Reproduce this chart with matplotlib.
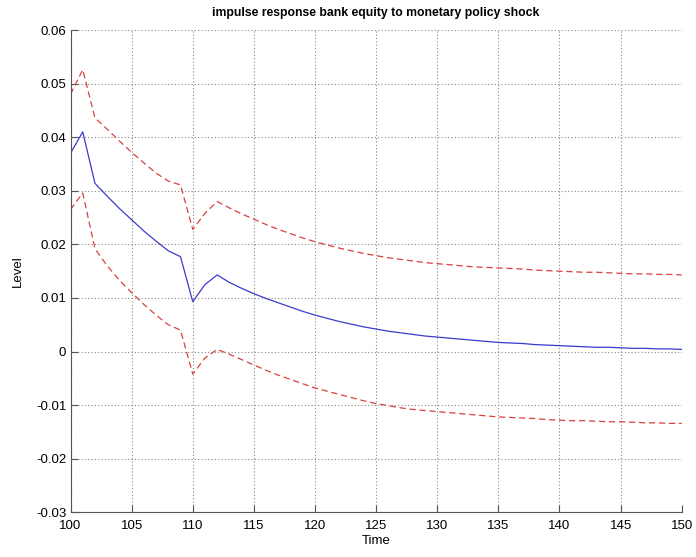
import numpy as np
import matplotlib.pyplot as plt

plt.rcParams['font.family'] = ['Liberation Sans', 'DejaVu Sans']

# periods after the shock
t = np.arange(100, 151)

# median response of bank equity
irf = [0.0370, 0.0410, 0.0314, 0.0290, 0.0267, 0.0246, 0.0225, 0.0206, 0.0188, 0.0177,
       0.0093, 0.0125, 0.0143, 0.0129, 0.0118, 0.0108, 0.0099, 0.0091, 0.0083, 0.0075,
       0.0068, 0.0062, 0.0056, 0.0051, 0.0046, 0.0042, 0.0038, 0.0035, 0.0032, 0.0029,
       0.0027, 0.0025, 0.0023, 0.0021, 0.0019, 0.0017, 0.0016, 0.0015, 0.0013, 0.0012,
       0.0011, 0.0010, 0.0009, 0.0008, 0.0008, 0.0007, 0.0006, 0.0006, 0.0005, 0.0005,
       0.0004]

# upper confidence band
upper = [0.0480, 0.0526, 0.0436, 0.0415, 0.0393, 0.0372, 0.0352, 0.0333, 0.0318, 0.0311,
         0.0228, 0.0258, 0.0280, 0.0268, 0.0257, 0.0247, 0.0237, 0.0228, 0.0220, 0.0212,
         0.0205, 0.0199, 0.0193, 0.0188, 0.0183, 0.0179, 0.0175, 0.0172, 0.0169, 0.0166,
         0.0164, 0.0162, 0.0160, 0.0158, 0.0157, 0.0156, 0.0155, 0.0154, 0.0152, 0.0151,
         0.0150, 0.0149, 0.0148, 0.0148, 0.0147, 0.0146, 0.0145, 0.0145, 0.0144, 0.0144,
         0.0143]

# lower confidence band
lower = [0.0265, 0.0296, 0.0192, 0.0160, 0.0133, 0.0110, 0.0088, 0.0068, 0.0050, 0.0040,
         -0.0042, -0.0012, 0.0004, -0.0005, -0.0015, -0.0025, -0.0035, -0.0044, -0.0052, -0.0060,
         -0.0068, -0.0074, -0.0080, -0.0086, -0.0092, -0.0097, -0.0101, -0.0105, -0.0108, -0.0110,
         -0.0112, -0.0114, -0.0116, -0.0118, -0.0120, -0.0122, -0.0123, -0.0124, -0.0125, -0.0127,
         -0.0128, -0.0129, -0.0129, -0.0130, -0.0131, -0.0131, -0.0132, -0.0133, -0.0133, -0.0134,
         -0.0134]

fig = plt.figure(figsize=(6.96, 5.57), dpi=100)
ax = fig.add_axes([0.1013, 0.0802, 0.8782, 0.8659])

ax.plot(t, irf, color='#3b3bcc', lw=0.9)
ax.plot(t, upper, color='#d94040', lw=0.9, ls=(0, (5, 3)))
ax.plot(t, lower, color='#d94040', lw=0.9, ls=(0, (5, 3)))

ax.set_xlim(100, 150)
ax.set_ylim(-0.03, 0.06)
ax.set_xticks(np.arange(100, 151, 5))
ax.set_yticks(np.arange(-0.03, 0.0601, 0.01))
ax.set_yticklabels(['-0.03', '-0.02', '-0.01', '0', '0.01', '0.02', '0.03', '0.04', '0.05', '0.06'])

ax.grid(True, ls=(0, (1, 2)), color='#888888', lw=0.8)
for s in ('top', 'right'):
    ax.spines[s].set_visible(False)
for s in ('left', 'bottom'):
    ax.spines[s].set_color('#555555')
ax.tick_params(direction='in', length=5, color='#555555', labelsize=9.5)
ax.tick_params(axis='x', pad=5.5)
ax.tick_params(axis='y', pad=3)

ax.set_title('impulse response bank equity to monetary policy shock',
             fontsize=8.8, fontweight='bold', pad=10)
ax.set_xlabel('Time', fontsize=9.5, labelpad=2)
ax.set_ylabel('Level', fontsize=9.5, labelpad=9)

fig.savefig('out.png', dpi=100)
